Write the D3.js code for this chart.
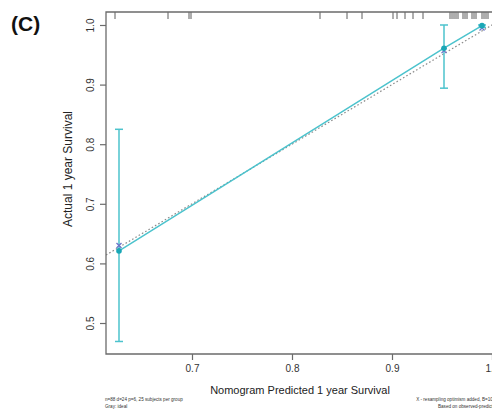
<!DOCTYPE html>
<html>
<head>
<meta charset="utf-8">
<script src="https://cdn.jsdelivr.net/npm/d3@7"></script>
<style>
  html, body { margin: 0; padding: 0; background: #fff; overflow: hidden; }
  svg { display: block; font-family: "Liberation Sans", Arial, Helvetica, sans-serif; }
</style>
</head>
<body>
<svg id="chart" width="492" height="413"></svg>
<script>
// Calibration groups: mean predicted vs observed 1-year survival
const predicted = [0.627, 0.952, 0.990];
const observed = [0.621, 0.961, 0.999];
const corrected = [0.630, 0.957, 0.995];
const ciLower = [0.469, 0.894, 0.996];
const ciUpper = [0.825, 1.000, 1.000];

// Distribution of individual predicted values (top rug)
const rugValues = [0.623, 0.676, 0.697, 0.699, 0.828, 0.855, 0.870, 0.901, 0.905,
  0.913, 0.921, 0.931, 0.958, 0.960, 0.962, 0.964, 0.966, 0.971, 0.973, 0.975,
  0.980, 0.982, 0.984, 0.990, 0.992, 0.994, 0.996];

const xTicks = [0.7, 0.8, 0.9, 1.0];
const yTicks = [0.5, 0.6, 0.7, 0.8, 0.9, 1.0];

const svg = d3.select("#chart");
const pLeft = 106, pTop = 12, pBottom = 354, pRight = 512;

const x = d3.scaleLinear().domain([0.614, 1.02]).range([pLeft, pRight]);
const y = d3.scaleLinear().domain([0.448, 1.0218]).range([pBottom, pTop]);

const teal = "#4cc3cd";
const tealDark = "#19a7b6";
const axisCol = "#6b6b6b";

svg.append("defs").append("clipPath").attr("id", "plotClip")
  .append("rect").attr("x", pLeft).attr("y", pTop).attr("width", pRight - pLeft).attr("height", pBottom - pTop);

const plot = svg.append("g").attr("clip-path", "url(#plotClip)");

// ideal reference line
plot.append("line")
  .attr("x1", x(0.614)).attr("y1", y(0.614))
  .attr("x2", x(1.03)).attr("y2", y(1.03))
  .attr("stroke", "#8c8c8c").attr("stroke-width", 1.2)
  .attr("stroke-dasharray", "1.6,2.2");

// observed calibration line
const pts = predicted.map((p, i) => ({ p, o: observed[i], c: corrected[i], lo: ciLower[i], hi: ciUpper[i] }));
plot.append("path")
  .datum(pts)
  .attr("fill", "none").attr("stroke", teal).attr("stroke-width", 1.5)
  .attr("d", d3.line().x(d => x(d.p)).y(d => y(d.o)));

// error bars
const eb = plot.selectAll(".eb").data(pts).enter().append("g").attr("class", "eb");
eb.append("line")
  .attr("x1", d => x(d.p)).attr("x2", d => x(d.p))
  .attr("y1", d => y(d.lo)).attr("y2", d => y(d.hi))
  .attr("stroke", teal).attr("stroke-width", 1.5);
["lo", "hi"].forEach(k => {
  eb.append("line")
    .attr("x1", d => x(d.p) - 4).attr("x2", d => x(d.p) + 4)
    .attr("y1", d => y(d[k])).attr("y2", d => y(d[k]))
    .attr("stroke", teal).attr("stroke-width", 1.5);
});

// bias-corrected X marks
const xm = plot.selectAll(".xm").data(pts).enter().append("g").attr("class", "xm")
  .attr("transform", d => `translate(${x(d.p)},${y(d.c)})`);
xm.append("path").attr("d", "M-2.5,-2.5L2.5,2.5M-2.5,2.5L2.5,-2.5")
  .attr("stroke", "#6b73c8").attr("stroke-width", 1.3);

// observed points
plot.selectAll(".pt").data(pts).enter().append("circle")
  .attr("cx", d => x(d.p)).attr("cy", d => y(d.o)).attr("r", 2.8)
  .attr("fill", tealDark);

// rug
svg.append("g").selectAll("line").data(rugValues).enter().append("line")
  .attr("x1", d => x(d)).attr("x2", d => x(d))
  .attr("y1", pTop).attr("y2", pTop + 7)
  .attr("stroke", "#4a4a4a").attr("stroke-width", 0.9);

// frame
svg.append("path")
  .attr("d", `M${pRight + 10},${pTop}H${pLeft}V${pBottom}H${pRight + 10}`)
  .attr("fill", "none").attr("stroke", axisCol).attr("stroke-width", 1.3);

// axes
const xAxis = svg.append("g").attr("transform", `translate(0,${pBottom})`)
  .call(d3.axisBottom(x).tickValues(xTicks).tickFormat(d3.format(".1f")).tickSize(6).tickPadding(5));
const yAxis = svg.append("g").attr("transform", `translate(${pLeft},0)`)
  .call(d3.axisLeft(y).tickValues(yTicks).tickFormat(d3.format(".1f")).tickSize(6).tickPadding(4));
[xAxis, yAxis].forEach(a => {
  a.select(".domain").remove();
  a.selectAll(".tick line").attr("stroke", axisCol).attr("stroke-width", 1.2);
  a.selectAll(".tick text").attr("fill", "#333").style("font-size", "10px");
});
yAxis.selectAll(".tick text")
  .attr("x", null).attr("dy", "0.35em")
  .attr("text-anchor", "middle")
  .attr("transform", "translate(-16,0) rotate(-90)");

// titles
svg.append("text").attr("x", 300).attr("y", 394).attr("text-anchor", "middle")
  .style("font-size", "11px").attr("fill", "#222")
  .text("Nomogram Predicted 1 year Survival");
svg.append("text").attr("transform", "translate(72,169) rotate(-90)").attr("text-anchor", "middle")
  .style("font-size", "12px").attr("fill", "#222")
  .text("Actual 1 year Survival");
svg.append("text").attr("x", 11).attr("y", 31)
  .style("font-size", "21px").style("font-weight", "bold").attr("fill", "#111")
  .text("(C)");

// footnotes
const foot = svg.append("g").style("font-size", "4.6px").attr("fill", "#333");
foot.append("text").attr("x", 105).attr("y", 401).text("n=88 d=24 p=6, 25 subjects per group");
foot.append("text").attr("x", 105).attr("y", 408).text("Gray: ideal");
foot.append("text").attr("x", 498).attr("y", 401).attr("text-anchor", "end").text("X - resampling optimism added, B=1000");
foot.append("text").attr("x", 498).attr("y", 408).attr("text-anchor", "end").text("Based on observed-predicted");
</script>
</body>
</html>
